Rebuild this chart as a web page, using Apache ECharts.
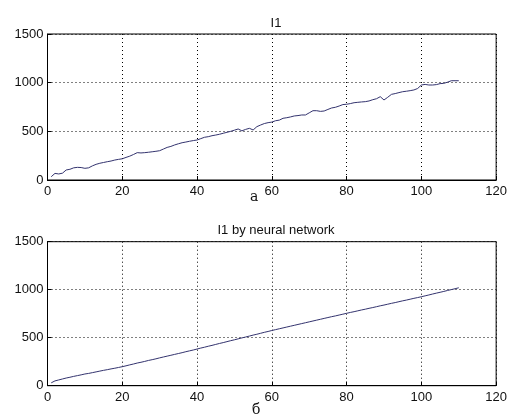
<!DOCTYPE html>
<html>
<head>
<meta charset="utf-8">
<script src="https://cdn.jsdelivr.net/npm/echarts@6/dist/echarts.min.js"></script>
<style>html,body{margin:0;padding:0;background:#fff;}#c{width:510px;height:415px;}</style>
</head>
<body>
<div id="c"></div>
<script>
const xValues = Array.from({length: 110}, (_, i) => i + 1);
const measured = [34,68,62,70,103,110,125,130,128,120,125,145,161,172,180,188,195,205,212,218,
232,245,262,281,278,281,285,290,295,301,318,335,345,360,372,383,390,398,405,411,
425,439,445,455,462,470,480,490,500,512,524,505,520,531,514,548,565,580,589,595,
609,615,634,640,648,658,662,668,668,690,712,712,705,709,725,740,747,760,775,778,
785,794,798,802,805,812,825,835,856,822,850,880,888,898,907,912,918,925,940,976,
982,976,976,980,990,993,1005,1020,1020,1020];
const predicted = [30,50,60,70,80,88,97,105,113,122,128,136,144,152,160,167,175,182,190,198,
207,217,226,236,244,253,263,271,280,290,299,308,317,326,335,344,354,363,372,382,
392,401,411,420,430,440,449,459,469,478,488,498,507,517,527,536,546,556,565,575,
584,593,602,611,620,629,638,647,656,665,674,683,692,701,710,719,727,736,745,754,
763,771,780,789,797,806,814,823,832,840,849,858,866,875,884,892,901,910,918,927,
936,945,955,964,973,982,992,1001,1010,1020];
const xTicks = [0,20,40,60,80,100,120];
const yTicks = [0,500,1000,1500];
const titles = ['I1', 'I1 by neural network'];
const captions = ['a', 'б'];

const chart = echarts.init(document.getElementById('c'));
const font = 'Liberation Sans, Arial, sans-serif';
function xAx(gi) {
  return {
    type: 'value', gridIndex: gi, min: xTicks[0], max: xTicks[xTicks.length-1], interval: 20,
    axisLine: {show: true, lineStyle: {color: '#000', width: 1}},
    axisTick: {show: true, inside: true, length: 4, lineStyle: {color: '#000'}},
    axisLabel: {color: '#111', fontSize: 13, fontFamily: font, margin: 5, formatter: v => String(v)},
    splitLine: {show: true, lineStyle: {color: '#000', type: [1, 3], width: 1}}
  };
}
function yAx(gi) {
  return {
    type: 'value', gridIndex: gi, min: yTicks[0], max: yTicks[yTicks.length-1], interval: 500,
    axisLine: {show: true, lineStyle: {color: '#000', width: 1}},
    axisTick: {show: true, inside: true, length: 4, lineStyle: {color: '#000'}},
    axisLabel: {color: '#111', fontSize: 13, fontFamily: font, margin: 4, formatter: v => String(v)},
    splitLine: {show: true, lineStyle: {color: '#000', type: [1, 3], width: 1}}
  };
}
chart.setOption({
  animation: false,
  backgroundColor: '#fff',
  title: [
    {text: titles[0], left: 271, top: 12, textAlign: 'center', textStyle: {fontSize: 13, fontWeight: 'normal', color: '#111', fontFamily: font}},
    {text: titles[1], left: 271, top: 219, textAlign: 'center', textStyle: {fontSize: 13, fontWeight: 'normal', color: '#111', fontFamily: font}}
  ],
  grid: [
    {left: 47.5, right: 11.5, top: 34, height: 146, show: true, borderColor: '#000', borderWidth: 1, backgroundColor: '#fff'},
    {left: 47.5, right: 11.5, top: 241.7, height: 144, show: true, borderColor: '#000', borderWidth: 1, backgroundColor: '#fff'}
  ],
  xAxis: [xAx(0), xAx(1)],
  yAxis: [yAx(0), yAx(1)],
  graphic: [
    {type: 'text', left: 250, top: 190, style: {text: captions[0], font: '14px "DejaVu Serif", serif', fill: '#111'}},
    {type: 'text', left: 252, top: 403, style: {text: captions[1], font: '14px "DejaVu Serif", serif', fill: '#111'}}
  ],
  series: [
    {type: 'line', xAxisIndex: 0, yAxisIndex: 0, showSymbol: false, symbol: 'none',
     lineStyle: {color: '#33336e', width: 1}, data: xValues.map((x, i) => [x, measured[i]])},
    {type: 'line', xAxisIndex: 1, yAxisIndex: 1, showSymbol: false, symbol: 'none',
     lineStyle: {color: '#33336e', width: 1}, data: xValues.map((x, i) => [x, predicted[i]])}
  ]
});
</script>
</body>
</html>
